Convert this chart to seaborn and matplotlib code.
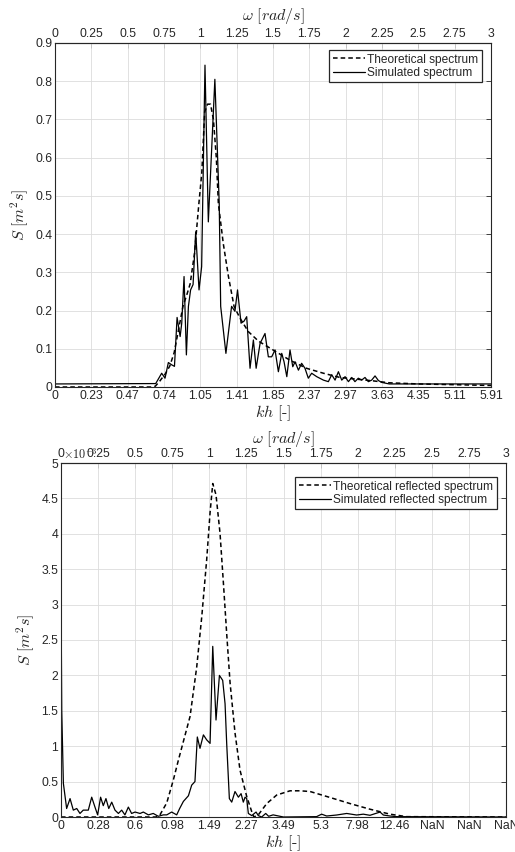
import numpy as np
import pandas as pd
import matplotlib
matplotlib.use("Agg")
import matplotlib.pyplot as plt
import seaborn as sns
from matplotlib.ticker import FuncFormatter

# ---------------- data ----------------
omega_ticks = [0, 0.25, 0.5, 0.75, 1, 1.25, 1.5, 1.75, 2, 2.25, 2.5, 2.75, 3]
omega_labels = ["0", "0.25", "0.5", "0.75", "1", "1.25", "1.5", "1.75", "2",
                "2.25", "2.5", "2.75", "3"]
kh_labels_top = ["0", "0.23", "0.47", "0.74", "1.05", "1.41", "1.85", "2.37",
                 "2.97", "3.63", "4.35", "5.11", "5.91"]
kh_labels_bot = ["0", "0.28", "0.6", "0.98", "1.49", "2.27", "3.49", "5.3",
                 "7.98", "12.46", "NaN", "NaN", "NaN"]

# top panel: incident spectrum [m^2 s]
om_theo1 = [0, 0.66, 0.69, 0.72, 0.76, 0.79, 0.82, 0.85, 0.88, 0.91, 0.93, 0.96,
            0.99, 1.01, 1.03, 1.05, 1.07, 1.09, 1.11, 1.124, 1.158, 1.193, 1.232,
            1.273, 1.33, 1.40, 1.50, 1.617, 1.73, 1.847, 1.96, 2.19, 2.30, 2.50,
            2.75, 3.0]
S_theo1 = [0, 0, 0.002, 0.015, 0.035, 0.055, 0.09, 0.15, 0.21, 0.245, 0.27, 0.35,
           0.48, 0.56, 0.72, 0.74, 0.74, 0.70, 0.60, 0.48, 0.375, 0.29, 0.211,
           0.18, 0.145, 0.12, 0.097, 0.07, 0.049, 0.036, 0.025, 0.016, 0.011, 0.008,
           0.006, 0.004]

om_sim1 = [0, 0.693, 0.734, 0.757, 0.780, 0.803, 0.822, 0.840, 0.861, 0.872,
           0.888, 0.904, 0.918, 0.933, 0.950, 0.968, 0.991, 1.009, 1.032, 1.055,
           1.100, 1.130, 1.140, 1.176, 1.215, 1.238, 1.256, 1.280, 1.300, 1.319,
           1.342, 1.365, 1.384, 1.411, 1.445, 1.468, 1.491, 1.514, 1.537, 1.560,
           1.576, 1.595, 1.617, 1.636, 1.652, 1.675, 1.697, 1.720, 1.743, 1.766,
           1.801, 1.847, 1.881, 1.904, 1.927, 1.950, 1.973, 1.996, 2.019, 2.042,
           2.064, 2.087, 2.110, 2.133, 2.156, 2.179, 2.202, 2.225, 2.248, 2.300,
           3.000]
S_sim1 = [0.008, 0.009, 0.036, 0.023, 0.064, 0.058, 0.054, 0.182, 0.132, 0.167,
          0.289, 0.084, 0.211, 0.254, 0.268, 0.406, 0.254, 0.315, 0.842, 0.432,
          0.805, 0.48, 0.211, 0.088, 0.211, 0.198, 0.254, 0.167, 0.172, 0.184,
          0.049, 0.123, 0.049, 0.114, 0.14, 0.079, 0.079, 0.097, 0.040, 0.088,
          0.066, 0.027, 0.097, 0.053, 0.066, 0.044, 0.062, 0.049, 0.023, 0.036,
          0.027, 0.018, 0.014, 0.032, 0.018, 0.040, 0.018, 0.027, 0.014, 0.025,
          0.014, 0.023, 0.018, 0.025, 0.014, 0.018, 0.029, 0.017, 0.012, 0.008,
          0.008]

# bottom panel: reflected spectrum [x1e-3 m^2 s]
om_theo2 = [0, 0.64, 0.667, 0.713, 0.757, 0.791, 0.870, 0.915, 0.949, 0.982,
            1.005, 1.023, 1.045, 1.072, 1.095, 1.117, 1.14, 1.173, 1.207, 1.252,
            1.286, 1.30, 1.33, 1.387, 1.454, 1.544, 1.611, 1.679, 1.791, 1.948,
            2.083, 2.218, 2.33, 3.0]
S_theo2 = [0, 0, 0.03, 0.2, 0.52, 0.8, 1.42, 2.12, 2.83, 3.63,
           4.3, 4.71, 4.55, 4.01, 3.3, 2.59, 1.89, 1.19, 0.66, 0.29,
           0.075, 0.0, 0.03, 0.19, 0.31, 0.37, 0.37, 0.36, 0.29, 0.19,
           0.11, 0.04, 0.005, 0]

om_sim2 = [0, 0.005, 0.016, 0.038, 0.061, 0.083, 0.106, 0.128, 0.15, 0.184,
           0.207, 0.229, 0.247, 0.267, 0.285, 0.303, 0.322, 0.342, 0.364, 0.387,
           0.409, 0.431, 0.454, 0.476, 0.499, 0.533, 0.555, 0.589, 0.622, 0.656,
           0.69, 0.713, 0.746, 0.78, 0.80, 0.825, 0.859, 0.881, 0.903, 0.919,
           0.937, 0.960, 0.982, 1.005, 1.023, 1.045, 1.068, 1.09, 1.106, 1.117,
           1.135, 1.151, 1.173, 1.196, 1.214, 1.229, 1.241, 1.252, 1.263, 1.286,
           1.315, 1.33, 1.353, 1.38, 1.40, 1.43, 1.5, 1.723, 1.757, 1.791,
           1.858, 1.926, 1.993, 2.038, 2.083, 2.151, 2.173, 2.218, 2.263, 3.0]
S_sim2 = [3.2, 1.5, 0.475, 0.12, 0.26, 0.097, 0.12, 0.05, 0.097, 0.097,
          0.28, 0.14, 0.03, 0.28, 0.16, 0.26, 0.12, 0.21, 0.097, 0.05,
          0.097, 0.03, 0.14, 0.05, 0.07, 0.05, 0.07, 0.03, 0.05, 0.01,
          0.03, 0.03, 0.07, 0.03, 0.12, 0.22, 0.30, 0.45, 0.50, 1.13,
          0.97, 1.16, 1.09, 1.04, 2.41, 1.37, 2.0, 1.93, 1.6, 1.04,
          0.26, 0.21, 0.36, 0.28, 0.33, 0.21, 0.28, 0.26, 0.05, 0.02,
          0.07, 0.02, 0.0, 0.05, 0.01, 0.03, 0.0, 0.005, 0.04, 0.014,
          0.028, 0.05, 0.028, 0.04, 0.024, 0.07, 0.028, 0.014, 0.005, 0.0]

# ---------------- style ----------------
sns.set_style("white")
plt.rcParams["font.family"] = ["Liberation Sans", "DejaVu Sans"]
plt.rcParams["mathtext.fontset"] = "cm"

INK = "#262626"
DASH = (0, (3, 2))
TICK_FS = 8.8
LABEL_FS = 11.5
LEG_FS = 8.6

fig = plt.figure(figsize=(5.15, 8.52), dpi=100)
ax1 = fig.add_axes([55 / 515, 1 - 387 / 852, 436 / 515, 344 / 852])
ax2 = fig.add_axes([61 / 515, 1 - 817 / 852, 445 / 515, 354 / 852])


def draw(ax, om_t, s_t, om_s, s_s, lab_t, lab_s):
    d_t = pd.DataFrame({"omega": om_t, "S": s_t})
    d_s = pd.DataFrame({"omega": om_s, "S": s_s})
    sns.lineplot(data=d_t, x="omega", y="S", ax=ax, color="black", lw=1.1,
                 linestyle=DASH, label=lab_t, estimator=None, sort=False)
    sns.lineplot(data=d_s, x="omega", y="S", ax=ax, color="black", lw=0.9,
                 label=lab_s, estimator=None, sort=False)


def style(ax, kh_labels, ylim, yticks, leg_anchor, top_pad):
    ax.set_xlim(0, 3)
    ax.set_ylim(*ylim)
    ax.set_xticks(omega_ticks)
    ax.set_xticklabels(kh_labels)
    ax.set_yticks(yticks)
    ax.yaxis.set_major_formatter(FuncFormatter(lambda v, p: f"{v:g}"))
    ax.grid(True, color="#dcdcdc", lw=0.6)
    ax.set_axisbelow(True)
    ax.tick_params(axis="both", direction="in", right=True, length=3.5, width=0.6,
                   labelsize=TICK_FS, colors=INK, pad=2)
    for s in ax.spines.values():
        s.set_color(INK)
        s.set_linewidth(0.8)
    ax.set_xlabel(r"$kh\ [\text{-}]$", fontsize=LABEL_FS, color=INK, labelpad=1)
    ax.set_ylabel(r"$S\ [m^2s]$", fontsize=LABEL_FS, color=INK, labelpad=3)
    sec = ax.secondary_xaxis("top")
    sec.set_xticks(omega_ticks)
    sec.set_xticklabels(omega_labels)
    sec.tick_params(direction="in", length=3.5, width=0.6, labelsize=TICK_FS,
                    colors=INK, pad=2)
    sec.spines["top"].set_color(INK)
    sec.spines["top"].set_linewidth(0.8)
    sec.set_xlabel(r"$\omega\ [rad/s]$", fontsize=LABEL_FS, color=INK,
                   labelpad=top_pad)
    leg = ax.legend(loc="upper right", bbox_to_anchor=leg_anchor, borderaxespad=0,
                    fontsize=LEG_FS, frameon=True, fancybox=False, edgecolor=INK,
                    framealpha=1, handlelength=2.7, borderpad=0.3,
                    labelspacing=0.1, handletextpad=0.2)
    leg.get_frame().set_linewidth(0.9)


draw(ax1, om_theo1, S_theo1, om_sim1, S_sim1,
     "Theoretical spectrum", "Simulated spectrum")
style(ax1, kh_labels_top, (0, 0.9), np.arange(0, 0.91, 0.1),
      (1 - 9 / 436, 1 - 7 / 344), 6)

draw(ax2, om_theo2, S_theo2, om_sim2, S_sim2,
     "Theoretical reflected spectrum", "Simulated reflected spectrum")
style(ax2, kh_labels_bot, (0, 5), np.arange(0, 5.01, 0.5),
      (1 - 9 / 445, 1 - 14 / 354), 4)
ax2.text(0.005, 1.004, r"$\times10^{-3}$", transform=ax2.transAxes, ha="left",
         va="bottom", fontsize=TICK_FS, color=INK)

fig.savefig("out.png", dpi=100)
